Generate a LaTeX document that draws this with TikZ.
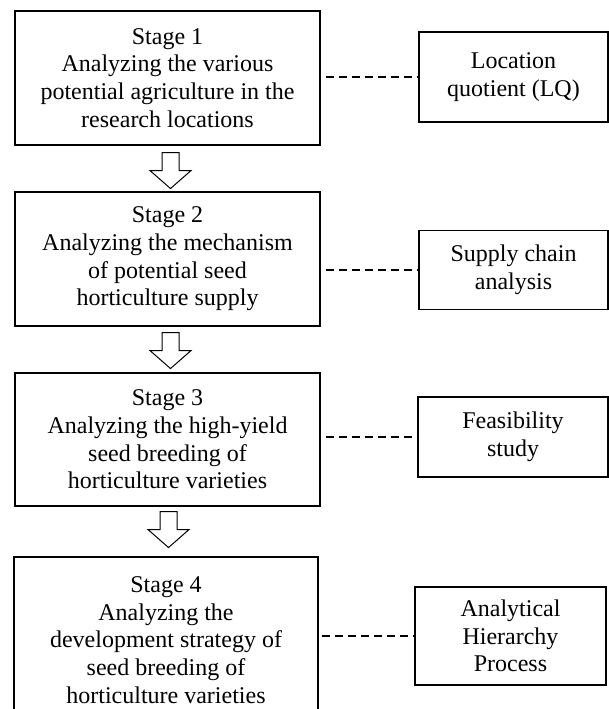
\documentclass[tikz,border=0pt]{standalone}
\usepackage{fontspec}
\setmainfont{Liberation Serif}
\usetikzlibrary{calc}
\tikzset{
  stagebox/.style={draw, line width=1.1pt, rectangle, align=center, inner sep=0pt,
    font=\fontsize{24}{27.7}\selectfont},
  methodbox/.style={draw, line width=1.1pt, rectangle, align=center, inner sep=0pt,
    font=\fontsize{24}{27.7}\selectfont},
  link/.style={line width=1.3pt, dash pattern=on 8pt off 5pt},
  blockarr/.pic={\draw[fill=white, line width=1pt, line join=miter]
    (-8.5,0) -- (8.5,0) -- (8.5,18) -- (20.5,18) -- (0,36) -- (-20.5,18) -- (-8.5,18) -- cycle;}
}
\begin{document}
\begin{tikzpicture}[x=1pt,y=-1pt]
\useasboundingbox (0,0) rectangle (609,709);
% stage boxes
\node[stagebox, minimum width=305pt, minimum height=134pt] (s1) at (167.5,78)
  {Stage 1\\Analyzing the various\\potential agriculture in the\\research locations};
\node[stagebox, minimum width=305pt, minimum height=134pt] (s2) at (167.5,259)
  {Stage 2\\Analyzing the mechanism\\of potential seed\\horticulture supply};
\node[stagebox, minimum width=305pt, minimum height=133pt] (s3) at (167.5,439.5)
  {Stage 3\\Analyzing the high-yield\\seed breeding of\\horticulture varieties};
\node[stagebox, minimum width=304pt, minimum height=166pt] (s4) at (166,640)
  {Stage 4\\Analyzing the\\development strategy of\\seed breeding of\\horticulture varieties};
% method boxes
\node[methodbox, minimum width=189pt, minimum height=90pt] (m1) at (513.5,77)
  {Location\\quotient (LQ)};
\node[methodbox, minimum width=189pt, minimum height=79pt] (m2) at (513.5,270)
  {Supply chain\\analysis};
\node[methodbox, minimum width=190pt, minimum height=80pt] (m3) at (513,437)
  {Feasibility\\study};
\node[methodbox, minimum width=191pt, minimum height=98pt] (m4) at (510.5,636)
  {Analytical\\Hierarchy\\Process};
% dashed links
\draw[link] ($(s1.east |- m1.west)+(5,0)$) -- (m1.west);
\draw[link] ($(s2.east |- m2.west)+(5,0)$) -- (m2.west);
\draw[link] ($(s3.east |- m3.west)+(5,0)$) -- (m3.west);
\draw[link] ($(s4.east |- m4.west)+(3,0)$) -- (m4.west);
% block arrows
\pic at ($(s1.south)+(3,7)$) {blockarr};
\pic at ($(s2.south)+(3,6)$) {blockarr};
\pic at ($(s3.south)+(1,5)$) {blockarr};
\end{tikzpicture}
\end{document}
